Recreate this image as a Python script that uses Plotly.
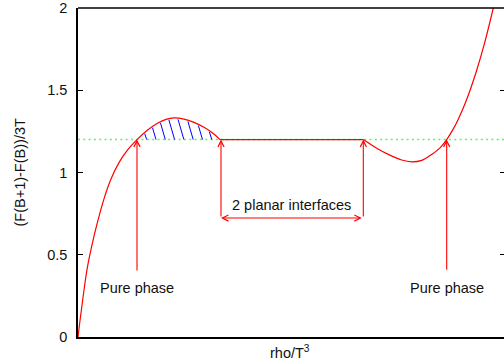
import numpy as np
import plotly.graph_objects as go

# ---- data (x in arbitrary rho/T^3 units) ----
left_x = [0.0, 0.02, 0.05, 0.09, 0.14, 0.20, 0.26, 0.33, 0.41, 0.50, 0.59, 0.69, 0.79, 0.88, 0.96, 1.06, 1.16, 1.26, 1.34, 1.42]
left_y = [0.0, 0.10, 0.24, 0.41, 0.56, 0.71, 0.84, 0.96, 1.06, 1.14, 1.20, 1.255, 1.298, 1.323, 1.332, 1.325, 1.305, 1.275, 1.243, 1.20]

flat_x = [1.42, 2.853]
flat_y = [1.20, 1.20]

right_x = [2.853, 2.97, 3.103, 3.237, 3.337, 3.437, 3.537, 3.62, 3.687, 3.753, 3.803, 3.88, 3.98, 4.06, 4.153]
right_y = [1.20, 1.154, 1.110, 1.076, 1.065, 1.074, 1.110, 1.150, 1.20, 1.265, 1.324, 1.433, 1.608, 1.774, 2.0]

coexist_level = 1.2
x_range = [0, 4.26]
y_range = [0, 2]
y_ticks = [0, 0.5, 1, 1.5, 2]
y_ticktext = ["0", "0.5", "1", "1.5", "2"]

# arrows: (x_tail, y_tail, x_head, y_head, two_sided)
arrows = [
    (0.59, 0.395, 0.59, 1.2, False),
    (3.687, 0.40, 3.687, 1.2, False),
    (1.43, 0.723, 1.43, 1.2, False),
    (2.853, 0.723, 2.853, 1.2, False),
    (2.853, 0.723, 1.43, 0.723, True),
]
labels = [
    ("Pure phase", 0.59, 0.30),
    ("Pure phase", 3.69, 0.30),
    ("2 planar interfaces", 2.137, 0.80),
]

FONT = "Liberation Sans, Arial, sans-serif"
RED = "#ff0000"

fig = go.Figure()

# green dotted coexistence line
fig.add_trace(go.Scatter(x=x_range, y=[coexist_level, coexist_level], mode="lines",
                         line=dict(color="#66ee66", width=1.5, dash="2px,3.3px"),
                         hoverinfo="skip", showlegend=False))

# hatch lines (blue) between curve and the coexistence level
hatch_spacing = 0.093
hatch_start = 0.687
hatch_slope = 0.447  # dx per dy (data units)
xs_dense = np.linspace(left_x[10], left_x[-1], 800)
ys_dense = np.interp(xs_dense, left_x, left_y)
hx, hy = [], []
xb = hatch_start
while xb < left_x[-1] - 0.02:
    g = ys_dense - coexist_level - (xb - xs_dense) / hatch_slope
    idx = np.where((g[:-1] <= 0) & (g[1:] > 0))[0]
    cand = [i for i in idx if xs_dense[i] <= xb]
    if cand:
        i = cand[-1]
        xt, yt = xs_dense[i], ys_dense[i]
        hx += [xt, xb, None]
        hy += [yt - 0.006, coexist_level, None]
    xb += hatch_spacing
fig.add_trace(go.Scatter(x=hx, y=hy, mode="lines", line=dict(color="#0000ff", width=1),
                         hoverinfo="skip", showlegend=False))

# red curve pieces
fig.add_trace(go.Scatter(x=left_x, y=left_y, mode="lines", line=dict(color=RED, width=1.2, shape="spline"),
                         hoverinfo="skip", showlegend=False))
fig.add_trace(go.Scatter(x=flat_x, y=flat_y, mode="lines", line=dict(color=RED, width=1.2),
                         hoverinfo="skip", showlegend=False))
fig.add_trace(go.Scatter(x=right_x, y=right_y, mode="lines", line=dict(color=RED, width=1.2, shape="spline"),
                         hoverinfo="skip", showlegend=False))

# secondary axis just for right-side inside ticks
fig.add_trace(go.Scatter(x=[None], y=[None], yaxis="y2", showlegend=False, hoverinfo="skip"))

for (xt, yt, xh, yh, two) in arrows:
    fig.add_annotation(x=xh, y=yh, ax=xt, ay=yt, xref="x", yref="y", axref="x", ayref="y",
                       text="", showarrow=True, arrowhead=5, arrowsize=1.1, arrowwidth=1.1,
                       arrowcolor=RED, arrowside="end+start" if two else "end",
                       startarrowhead=5, startarrowsize=1.1, standoff=0, startstandoff=0)

for (t, x, y) in labels:
    fig.add_annotation(x=x, y=y, xref="x", yref="y", text=t, showarrow=False,
                       font=dict(family=FONT, size=14.5, color="#111111"),
                       xanchor="center", yanchor="middle")

# axis titles
fig.add_annotation(x=2.12, y=-0.045, xref="x", yref="paper", text="rho/T<sup>3</sup>", showarrow=False,
                   font=dict(family=FONT, size=14.5, color="#111111"), xanchor="center", yanchor="middle")
fig.add_annotation(x=-59 / 426, y=0.5, xref="paper", yref="paper", text="(F(B+1)-F(B))/3T",
                   textangle=-90, showarrow=False,
                   font=dict(family=FONT, size=14.5, color="#111111"), xanchor="center", yanchor="middle")

# top border line
fig.add_shape(type="line", xref="paper", yref="paper", x0=0, x1=1, y0=1, y1=1,
              line=dict(color="black", width=1.5), layer="above")

fig.update_layout(
    width=504, height=362,
    margin=dict(l=78, r=0, t=6, b=25),
    paper_bgcolor="white", plot_bgcolor="white",
    xaxis=dict(range=x_range, showgrid=False, zeroline=False, showticklabels=False, ticks="",
               showline=True, linecolor="black", linewidth=1.5, mirror=False),
    yaxis=dict(range=y_range, showgrid=False, zeroline=False, tickvals=y_ticks, ticktext=y_ticktext,
               ticks="inside", ticklen=5, tickwidth=1, tickcolor="black",
               showline=True, linecolor="black", linewidth=1.5, mirror=False,
               ticklabelstandoff=6, ticklabeloverflow="allow",
               tickfont=dict(family=FONT, size=14.5, color="#111111")),
    yaxis2=dict(range=y_range, overlaying="y", side="right", showgrid=False, zeroline=False,
                tickvals=y_ticks, showticklabels=False, ticks="inside", ticklen=4, tickwidth=1,
                tickcolor="black", showline=False),
)

fig.write_html("out.html")
